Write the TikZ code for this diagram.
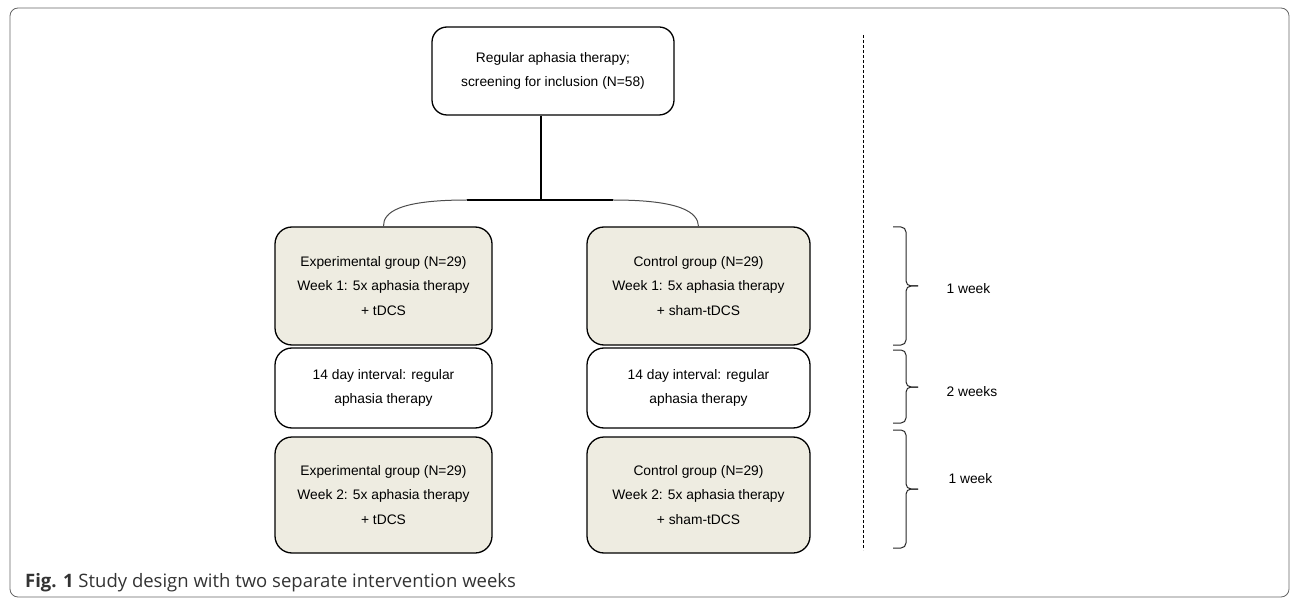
\documentclass[tikz,border=0pt]{standalone}
\usepackage{fontspec}
\setmainfont{Liberation Sans}
\newfontfamily\capfont{Open Sans}
\definecolor{tanbg}{HTML}{EEECE1}

\begin{document}
\begin{tikzpicture}
  [ x=1pt, y=-1pt,
    box/.style={rectangle, rounded corners=17pt, draw=black, line width=1.3pt, align=center, inner sep=0pt, font=\fontsize{13.8}{24.5}\selectfont},
    grp/.style={box, fill=tanbg},
    gap/.style={box, fill=white, minimum height=80pt},
    line/.style={-, line width=1.5pt, black},
    arc/.style={-, line width=1pt, black!70},
    wk/.style={-, rounded corners=5pt, line width=1pt, black!85},
    lab/.style={anchor=west, font=\fontsize{13.8}{15}\selectfont},
    frame/.style={draw=black!60, line width=0.8pt, rounded corners=8pt}
  ]
  \useasboundingbox (0,0) rectangle (1292,601);
  \draw[frame] (10,8) rectangle (1289,597);

  % top box
  \node[box, rounded corners=15pt, minimum width=242pt, minimum height=88pt] (start) at (553,71) {Regular aphasia therapy;\\ screening for inclusion (N=58)};

  % experimental arm
  \node[grp, minimum width=217pt, minimum height=118pt] (expone) at (383.5,286) {Experimental group (N=29)\\ Week 1: 5x aphasia therapy\\ + tDCS};
  \node[gap, minimum width=217pt] (expgap) at (383.5,388) {14 day interval: regular\\ aphasia therapy};
  \node[grp, minimum width=217pt, minimum height=116pt] (exptwo) at (383.5,495) {Experimental group (N=29)\\ Week 2: 5x aphasia therapy\\ + tDCS};

  % control arm
  \node[grp, minimum width=223pt, minimum height=118pt] (conone) at (698.5,286) {Control group (N=29)\\ Week 1: 5x aphasia therapy\\ + sham-tDCS};
  \node[gap, minimum width=223pt] (congap) at (698.5,388) {14 day interval: regular\\ aphasia therapy};
  \node[grp, minimum width=223pt, minimum height=116pt] (contwo) at (698.5,495) {Control group (N=29)\\ Week 2: 5x aphasia therapy\\ + sham-tDCS};

  % split
  \coordinate (split) at (541,200);
  \coordinate (splitl) at (467,200);
  \coordinate (splitr) at (613,200);
  \draw[line] (start.south -| split) -- (split);
  \draw[line] (splitl) -- (splitr);
  \draw[arc] (splitl) .. controls (400,200) and (383,212) .. (expone.north);
  \draw[arc] (splitr) .. controls (680,200) and (698,212) .. (conone.north);

  % time line
  \coordinate (dashtop) at (863,35);
  \coordinate (dashbot) at (863,550);
  \draw[dashed, dash pattern=on 3pt off 2pt, line width=0.7pt] (dashtop) -- (dashbot);

  \draw[wk] (893,227) -| (906,286) -- (918,286);
  \draw[wk] (918,286) -- (906,286) |- (893,345);
  \draw[wk] (893,350) -| (906,387) -- (918,387);
  \draw[wk] (918,387) -- (906,387) |- (893,423);
  \draw[wk] (893,430) -| (906,489) -- (918,489);
  \draw[wk] (918,489) -- (906,489) |- (893,548);
  \node[lab] (wone) at (943,289) {1 week};
  \node[lab] (wgap) at (943,392) {2 weeks};
  \node[lab] (wtwo) at (945,479) {1 week};

  % caption
  \node[anchor=base west, inner sep=0pt, text=black!80, font=\capfont\fontsize{18.5}{20}\selectfont] (caption) at (25,587) {\textbf{Fig. 1} Study design with two separate intervention weeks};
\end{tikzpicture}
\end{document}
